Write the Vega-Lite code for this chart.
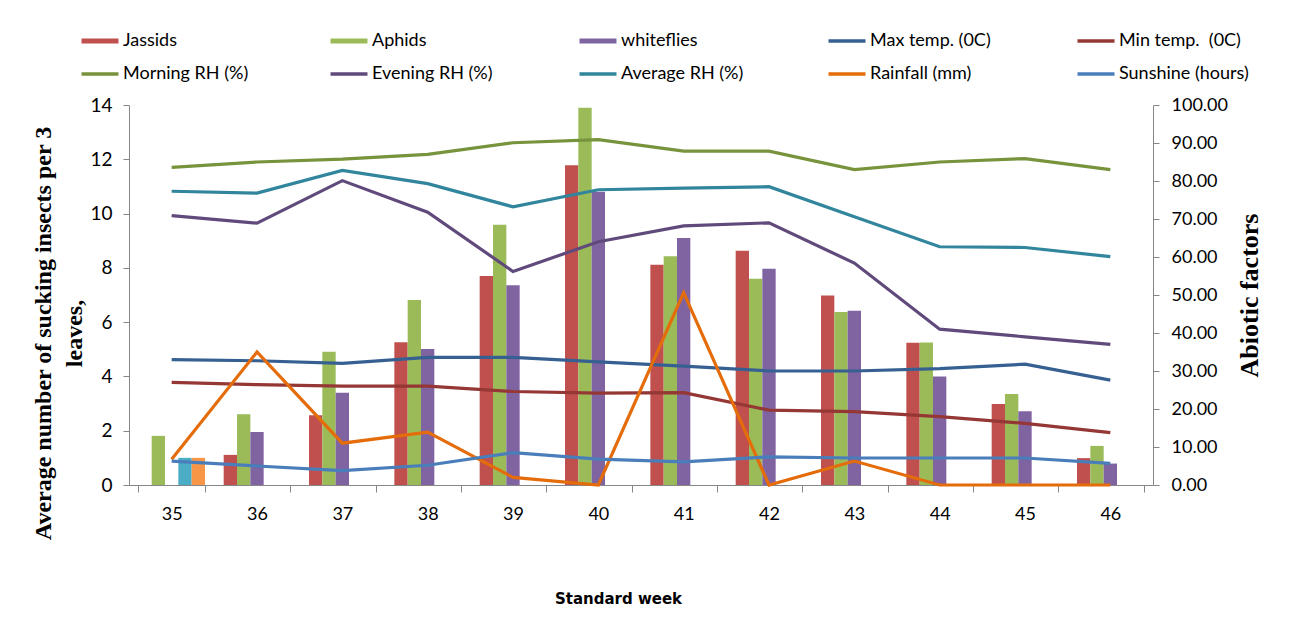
{
  "$schema": "https://vega.github.io/schema/vega-lite/v6.json",
  "width": 1024,
  "height": 380,
  "autosize": "none",
  "padding": {"left": 129, "top": 105, "right": 151, "bottom": 135},
  "background": "white",
  "config": {"view": {"stroke": null}},
  "datasets": {
    "bars": [
      {"week": 35, "series": "Aphids", "value": 1.81},
      {"week": 35, "series": "Series 5", "value": 1.0},
      {"week": 35, "series": "Series 6", "value": 1.0},
      {"week": 36, "series": "Jassids", "value": 1.11},
      {"week": 36, "series": "Aphids", "value": 2.61},
      {"week": 36, "series": "whiteflies", "value": 1.95},
      {"week": 37, "series": "Jassids", "value": 2.57},
      {"week": 37, "series": "Aphids", "value": 4.91},
      {"week": 37, "series": "whiteflies", "value": 3.40},
      {"week": 38, "series": "Jassids", "value": 5.26},
      {"week": 38, "series": "Aphids", "value": 6.82},
      {"week": 38, "series": "whiteflies", "value": 5.01},
      {"week": 39, "series": "Jassids", "value": 7.70},
      {"week": 39, "series": "Aphids", "value": 9.59},
      {"week": 39, "series": "whiteflies", "value": 7.36},
      {"week": 40, "series": "Jassids", "value": 11.78},
      {"week": 40, "series": "Aphids", "value": 13.90},
      {"week": 40, "series": "whiteflies", "value": 10.80},
      {"week": 41, "series": "Jassids", "value": 8.11},
      {"week": 41, "series": "Aphids", "value": 8.43},
      {"week": 41, "series": "whiteflies", "value": 9.10},
      {"week": 42, "series": "Jassids", "value": 8.63},
      {"week": 42, "series": "Aphids", "value": 7.60},
      {"week": 42, "series": "whiteflies", "value": 7.97},
      {"week": 43, "series": "Jassids", "value": 6.98},
      {"week": 43, "series": "Aphids", "value": 6.37},
      {"week": 43, "series": "whiteflies", "value": 6.42},
      {"week": 44, "series": "Jassids", "value": 5.24},
      {"week": 44, "series": "Aphids", "value": 5.25},
      {"week": 44, "series": "whiteflies", "value": 4.00},
      {"week": 45, "series": "Jassids", "value": 2.98},
      {"week": 45, "series": "Aphids", "value": 3.35},
      {"week": 45, "series": "whiteflies", "value": 2.72},
      {"week": 46, "series": "Jassids", "value": 0.99},
      {"week": 46, "series": "Aphids", "value": 1.44},
      {"week": 46, "series": "whiteflies", "value": 0.79}
    ],
    "lines": [
      {"week": 35, "series": "Max temp. (0C)", "value": 33.0},
      {"week": 36, "series": "Max temp. (0C)", "value": 32.7},
      {"week": 37, "series": "Max temp. (0C)", "value": 32.0},
      {"week": 38, "series": "Max temp. (0C)", "value": 33.6},
      {"week": 39, "series": "Max temp. (0C)", "value": 33.6},
      {"week": 40, "series": "Max temp. (0C)", "value": 32.4},
      {"week": 41, "series": "Max temp. (0C)", "value": 31.3},
      {"week": 42, "series": "Max temp. (0C)", "value": 30.0},
      {"week": 43, "series": "Max temp. (0C)", "value": 30.0},
      {"week": 44, "series": "Max temp. (0C)", "value": 30.6},
      {"week": 45, "series": "Max temp. (0C)", "value": 31.8},
      {"week": 46, "series": "Max temp. (0C)", "value": 27.6},
      {"week": 35, "series": "Min temp.\u00a0 (0C)", "value": 27.0},
      {"week": 36, "series": "Min temp.\u00a0 (0C)", "value": 26.4},
      {"week": 37, "series": "Min temp.\u00a0 (0C)", "value": 26.0},
      {"week": 38, "series": "Min temp.\u00a0 (0C)", "value": 26.0},
      {"week": 39, "series": "Min temp.\u00a0 (0C)", "value": 24.6},
      {"week": 40, "series": "Min temp.\u00a0 (0C)", "value": 24.2},
      {"week": 41, "series": "Min temp.\u00a0 (0C)", "value": 24.3},
      {"week": 42, "series": "Min temp.\u00a0 (0C)", "value": 19.7},
      {"week": 43, "series": "Min temp.\u00a0 (0C)", "value": 19.3},
      {"week": 44, "series": "Min temp.\u00a0 (0C)", "value": 18.0},
      {"week": 45, "series": "Min temp.\u00a0 (0C)", "value": 16.2},
      {"week": 46, "series": "Min temp.\u00a0 (0C)", "value": 13.8},
      {"week": 35, "series": "Morning RH (%)", "value": 83.6},
      {"week": 36, "series": "Morning RH (%)", "value": 85.0},
      {"week": 37, "series": "Morning RH (%)", "value": 85.75},
      {"week": 38, "series": "Morning RH (%)", "value": 87.0},
      {"week": 39, "series": "Morning RH (%)", "value": 90.06},
      {"week": 40, "series": "Morning RH (%)", "value": 90.9},
      {"week": 41, "series": "Morning RH (%)", "value": 87.86},
      {"week": 42, "series": "Morning RH (%)", "value": 87.86},
      {"week": 43, "series": "Morning RH (%)", "value": 83.0},
      {"week": 44, "series": "Morning RH (%)", "value": 85.0},
      {"week": 45, "series": "Morning RH (%)", "value": 85.9},
      {"week": 46, "series": "Morning RH (%)", "value": 83.0},
      {"week": 35, "series": "Evening RH (%)", "value": 70.9},
      {"week": 36, "series": "Evening RH (%)", "value": 68.9},
      {"week": 37, "series": "Evening RH (%)", "value": 80.1},
      {"week": 38, "series": "Evening RH (%)", "value": 71.8},
      {"week": 39, "series": "Evening RH (%)", "value": 56.2},
      {"week": 40, "series": "Evening RH (%)", "value": 64.0},
      {"week": 41, "series": "Evening RH (%)", "value": 68.2},
      {"week": 42, "series": "Evening RH (%)", "value": 69.0},
      {"week": 43, "series": "Evening RH (%)", "value": 58.4},
      {"week": 44, "series": "Evening RH (%)", "value": 41.0},
      {"week": 45, "series": "Evening RH (%)", "value": 39.0},
      {"week": 46, "series": "Evening RH (%)", "value": 37.0},
      {"week": 35, "series": "Average RH (%)", "value": 77.3},
      {"week": 36, "series": "Average RH (%)", "value": 76.8},
      {"week": 37, "series": "Average RH (%)", "value": 82.8},
      {"week": 38, "series": "Average RH (%)", "value": 79.3},
      {"week": 39, "series": "Average RH (%)", "value": 73.2},
      {"week": 40, "series": "Average RH (%)", "value": 77.7},
      {"week": 41, "series": "Average RH (%)", "value": 78.1},
      {"week": 42, "series": "Average RH (%)", "value": 78.5},
      {"week": 43, "series": "Average RH (%)", "value": 70.6},
      {"week": 44, "series": "Average RH (%)", "value": 62.7},
      {"week": 45, "series": "Average RH (%)", "value": 62.5},
      {"week": 46, "series": "Average RH (%)", "value": 60.1},
      {"week": 35, "series": "Rainfall (mm)", "value": 6.8},
      {"week": 36, "series": "Rainfall (mm)", "value": 35.0},
      {"week": 37, "series": "Rainfall (mm)", "value": 11.0},
      {"week": 38, "series": "Rainfall (mm)", "value": 13.9},
      {"week": 39, "series": "Rainfall (mm)", "value": 2.0},
      {"week": 40, "series": "Rainfall (mm)", "value": 0},
      {"week": 41, "series": "Rainfall (mm)", "value": 50.6},
      {"week": 42, "series": "Rainfall (mm)", "value": 0},
      {"week": 43, "series": "Rainfall (mm)", "value": 6.3},
      {"week": 44, "series": "Rainfall (mm)", "value": 0},
      {"week": 45, "series": "Rainfall (mm)", "value": 0},
      {"week": 46, "series": "Rainfall (mm)", "value": 0},
      {"week": 35, "series": "Sunshine (hours)", "value": 6.3},
      {"week": 36, "series": "Sunshine (hours)", "value": 5.0},
      {"week": 37, "series": "Sunshine (hours)", "value": 3.8},
      {"week": 38, "series": "Sunshine (hours)", "value": 5.2},
      {"week": 39, "series": "Sunshine (hours)", "value": 8.5},
      {"week": 40, "series": "Sunshine (hours)", "value": 6.8},
      {"week": 41, "series": "Sunshine (hours)", "value": 6.1},
      {"week": 42, "series": "Sunshine (hours)", "value": 7.4},
      {"week": 43, "series": "Sunshine (hours)", "value": 7.1},
      {"week": 44, "series": "Sunshine (hours)", "value": 7.1},
      {"week": 45, "series": "Sunshine (hours)", "value": 7.1},
      {"week": 46, "series": "Sunshine (hours)", "value": 5.7}
    ]
  },
  "encoding": {
    "x": {
      "field": "week",
      "type": "ordinal",
      "scale": {"paddingInner": 0.219, "paddingOuter": 0.1095},
      "axis": {
        "title": "Standard week",
        "titleFont": "DejaVu Sans",
        "titleFontWeight": "bold",
        "titleFontSize": 15,
        "titleColor": "#000000",
        "titlePadding": 68,
        "titleX": 489,
        "labelAngle": 0,
        "labelFont": "Lato",
        "labelFontSize": 18,
        "labelColor": "#000000",
        "labelPadding": 13,
        "tickBand": "extent",
        "tickSize": 7,
        "tickColor": "#868686",
        "domainColor": "#868686",
        "grid": false
      }
    }
  },
  "layer": [
    {
      "data": {"name": "bars"},
      "mark": {"type": "bar"},
      "encoding": {
        "xOffset": {
          "field": "series",
          "type": "nominal",
          "scale": {"domain": ["Jassids", "Aphids", "whiteflies", "Series 5", "Series 6"], "paddingInner": 0, "paddingOuter": 0}
        },
        "y": {
          "field": "value",
          "type": "quantitative",
          "scale": {"domain": [0, 14], "nice": false},
          "axis": {
            "orient": "left",
            "values": [0, 2, 4, 6, 8, 10, 12, 14],
            "title": ["Average number of sucking insects per 3", "leaves,"],
            "titleFont": "Liberation Serif",
            "titleFontWeight": "bold",
            "titleFontSize": 24,
            "titleLineHeight": 31,
            "titleColor": "#000000",
            "titlePadding": 3,
            "titleY": 228,
            "labelFont": "Lato",
            "labelFontSize": 19,
            "labelColor": "#000000",
            "labelPadding": 11,
            "tickSize": 6,
            "tickColor": "#868686",
            "domainColor": "#868686",
            "grid": false
          }
        },
        "color": {
          "field": "series",
          "type": "nominal",
          "scale": {
            "domain": ["Jassids", "Aphids", "whiteflies", "Max temp. (0C)", "Min temp.\u00a0 (0C)", "Morning RH (%)", "Evening RH (%)", "Average RH (%)", "Rainfall (mm)", "Sunshine (hours)", "Series 5", "Series 6"],
            "range": ["#C0504D", "#9BBB59", "#8064A2", "#376092", "#953735", "#77933C", "#604A7B", "#31859C", "#E46C0A", "#4A7EBB", "#4BACC6", "#F79646"]
          },
          "legend": {
            "title": null,
            "orient": "none",
            "legendX": -46,
            "legendY": -73,
            "direction": "horizontal",
            "columns": 5,
            "values": ["Jassids", "Aphids", "whiteflies", "Max temp. (0C)", "Min temp.\u00a0 (0C)", "Morning RH (%)", "Evening RH (%)", "Average RH (%)", "Rainfall (mm)", "Sunshine (hours)"],
            "gridAlign": "all",
            "columnPadding": 70,
            "rowPadding": 15,
            "symbolSize": 1369,
            "symbolOffset": 8,
            "labelFont": "Lato",
            "labelFontSize": 18,
            "labelColor": "#000000",
            "labelOffset": 14,
            "labelLimit": 300,
            "padding": 0,
            "encode": {
              "symbols": {
                "update": {
                  "shape": {"signal": "indexof(['Jassids','Aphids','whiteflies'], datum.value) >= 0 ? 'M-1,-0.14H1V0.14H-1Z' : 'M-1,0H1'"},
                  "fill": {"signal": "indexof(['Jassids','Aphids','whiteflies'], datum.value) >= 0 ? scale('color', datum.value) : 'transparent'"},
                  "stroke": {"signal": "scale('color', datum.value)"},
                  "strokeWidth": {"signal": "indexof(['Jassids','Aphids','whiteflies'], datum.value) >= 0 ? 0 : 3.5"},
                  "size": {"value": 1369},
                  "opacity": {"value": 1}
                }
              }
            }
          }
        }
      }
    },
    {
      "data": {"name": "lines"},
      "mark": {"type": "line", "strokeWidth": 3.2},
      "encoding": {
        "y": {
          "field": "value",
          "type": "quantitative",
          "scale": {"domain": [0, 100], "nice": false},
          "axis": {
            "orient": "right",
            "values": [0, 10, 20, 30, 40, 50, 60, 70, 80, 90, 100],
            "format": ".2f",
            "title": "Abiotic factors",
            "titleAngle": 270,
            "titleBaseline": "top",
            "titleFont": "Liberation Serif",
            "titleFontWeight": "bold",
            "titleFontSize": 26,
            "titleColor": "#000000",
            "titlePadding": 9,
            "labelFont": "Lato",
            "labelFontSize": 18,
            "labelColor": "#000000",
            "labelPadding": 12,
            "tickSize": 6,
            "tickColor": "#868686",
            "domainColor": "#868686",
            "grid": false
          }
        },
        "color": {"field": "series", "type": "nominal"}
      }
    }
  ],
  "resolve": {"scale": {"y": "independent"}, "axis": {"y": "independent"}}
}
